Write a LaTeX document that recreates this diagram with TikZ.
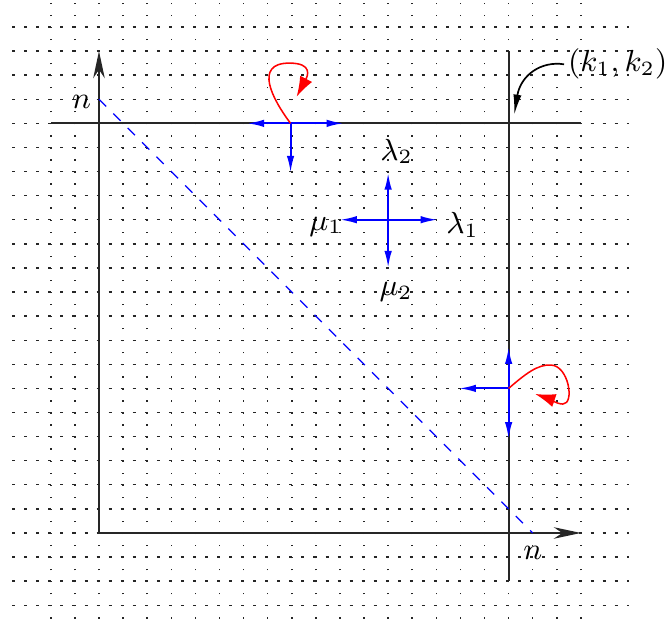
\documentclass[tikz,border=0pt]{standalone}
\usetikzlibrary{arrows.meta}
\begin{document}
\begin{tikzpicture}[x=0.25cm,y=0.25cm,
  every node/.style={font=\fontsize{8.6}{10}\selectfont},
  hgrid/.style={line width=0.4pt, draw=black!85, dash pattern=on 0.9pt off 2.657pt},
  vgrid/.style={line width=0.45pt, draw=black!85, dash pattern=on 0.4pt off 3.157pt},
  axisline/.style={line width=0.6pt, draw=black!85},
  axisarrow/.style={axisline, -{Stealth[length=8pt,width=3.4pt,inset=2.5pt]}},
  flow/.style={blue, line width=0.6pt, -{Latex[length=5pt,width=2.2pt]}},
  loopcurve/.style={red, line width=0.45pt, -{Latex[length=6pt,width=4pt]}},
  diag/.style={blue, dashed, line width=0.4pt},
  pointer/.style={black, line width=0.5pt, -{Latex[length=6pt,width=2.4pt]}},
]
\useasboundingbox (-4.108,-3.776) rectangle (23.49,22.12);
% background grid
\foreach \y in {-3,...,21} \draw[hgrid] (-3.6,\y) -- (22,\y);
\foreach \x in {-2,...,20} \draw[vgrid] (\x,-3.55) -- (\x,22);
% axes
\coordinate (O) at (0,0);
\coordinate (xend) at (20,0);
\coordinate (yend) at (0,20);
\draw[axisarrow] (O) -- (xend);
\draw[axisarrow] (O) -- (yend);
% lines k1, k2
\coordinate (tl) at (-2,17);
\coordinate (tr) at (20,17);
\coordinate (rb) at (17,-2);
\coordinate (rt) at (17,20);
\draw[axisline] (tl) -- (tr);
\draw[axisline] (rb) -- (rt);
% diagonal
\coordinate (yn) at (0,18);
\coordinate (xn) at (18,0);
\draw[diag] (yn) -- (xn);
\node (ny) at (-0.72,17.9) {$n$};
\node (nx) at (18,-0.83) {$n$};
% central cross
\coordinate (C) at (12,13);
\coordinate (Cr) at (14.05,13);
\coordinate (Cl) at (10,13);
\coordinate (Cu) at (12,14.95);
\coordinate (Cd) at (12,11);
\draw[flow] (C) -- (Cr);
\draw[flow] (C) -- (Cl);
\draw[flow] (C) -- (Cu);
\draw[flow] (C) -- (Cd);
\node (l2) at (12.35,15.83) {$\lambda_2$};
\node (m1) at (9.42,12.7) {$\mu_1$};
\node (l1) at (15.09,12.79) {$\lambda_1$};
\node (m2) at (12.33,10.0) {$\mu_2$};
% top boundary point
\coordinate (P) at (7.95,17);
\coordinate (Pl) at (6.15,17);
\coordinate (Pr) at (10.15,17);
\coordinate (Pd) at (7.95,14.95);
\draw[flow] (P) -- (Pl);
\draw[flow] (P) -- (Pr);
\draw[flow] (P) -- (Pd);
\coordinate (Pt) at (8.2,18.1);
\draw[loopcurve] (P) .. controls (7.2,18.0) and (6.4,19.5) .. (7.9,19.5)
  .. controls (8.9,19.5) and (8.65,18.95) .. (Pt);
% right boundary point
\coordinate (Q) at (17,6);
\coordinate (Qu) at (17,7.72);
\coordinate (Ql) at (14.94,6);
\coordinate (Qd) at (17,3.9);
\draw[flow] (Q) -- (Qu);
\draw[flow] (Q) -- (Ql);
\draw[flow] (Q) -- (Qd);
\coordinate (Qt) at (18.1,5.77);
\draw[loopcurve] (Q) .. controls (17.7,6.6) and (18.2,7.0) .. (18.75,6.97)
  .. controls (19.5,6.95) and (19.75,5.35) .. (19.25,5.35)
  .. controls (19.0,5.35) and (18.6,5.6) .. (Qt);
% corner label
\node[anchor=west, inner sep=1pt] (K) at (19.3,19.45) {$(k_1,k_2)$};
\coordinate (Kt) at (17.23,17.35);
\draw[pointer] (K.west) .. controls (18.35,19.6) and (17.5,19.0) .. (Kt);
\end{tikzpicture}
\end{document}
